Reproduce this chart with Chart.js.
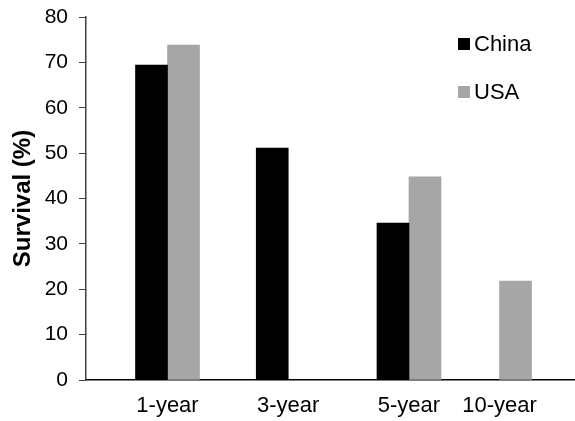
<!DOCTYPE html>
<html>
<head>
<meta charset="utf-8">
<script src="https://cdn.jsdelivr.net/npm/chart.js@4.4.1/dist/chart.umd.min.js"></script>
<style>
  html, body { margin: 0; padding: 0; background: #fff; }
  #wrap { width: 575px; height: 421px; }
</style>
</head>
<body>
<div id="wrap"><canvas id="survivalChart"></canvas></div>
<script>
const years = ['1-year', '3-year', '5-year', '10-year'];
const china = [69.4, 51.1, 34.6, null];
const usa = [73.8, null, 44.8, 21.8];
const yTicks = [0, 10, 20, 30, 40, 50, 60, 70, 80];

// the source spaces the groups unevenly, so the x axis is linear with a slot per group
const slot = [0, 4, 8, 11];
const FONT = "'Liberation Sans', Arial, sans-serif";

const legendInside = {
  id: 'legendInside',
  afterDraw(chart) {
    const ctx = chart.ctx;
    const x = chart.chartArea.right - 117;
    ctx.save();
    ctx.font = '22px ' + FONT;
    ctx.textBaseline = 'middle';
    chart.data.datasets.forEach((ds, i) => {
      const y = 44 + i * 48;
      ctx.fillStyle = ds.backgroundColor;
      ctx.fillRect(x, y - 6, 12, 12);
      ctx.fillStyle = '#000';
      ctx.fillText(ds.label, x + 16, y + 1);
    });
    ctx.restore();
  }
};

const ctx = document.getElementById('survivalChart').getContext('2d');
new Chart(ctx, {
  type: 'bar',
  data: {
    datasets: [
      {
        label: 'China',
        data: china.map((v, i) => ({ x: slot[i], y: v })),
        backgroundColor: '#000000',
        barThickness: 32
      },
      {
        label: 'USA',
        data: usa.map((v, i) => ({ x: slot[i], y: v })),
        backgroundColor: '#a6a6a6',
        barThickness: 32
      }
    ]
  },
  plugins: [legendInside],
  options: {
    responsive: true,
    maintainAspectRatio: false,
    animation: false,
    layout: { padding: { top: 17, right: 0, left: 0, bottom: 0 } },
    scales: {
      x: {
        type: 'linear',
        min: -2.7,
        max: 13.5,
        offset: false,
        afterBuildTicks: s => { s.ticks = slot.map(v => ({ value: v })); },
        afterFit: s => { s.height = 41; },
        ticks: {
          autoSkip: false,
          maxRotation: 0,
          padding: 13,
          color: '#000',
          font: { family: FONT, size: 22 },
          callback: v => years[slot.indexOf(v)]
        },
        grid: { display: false, drawTicks: false },
        border: { display: true, color: '#000', width: 1.5 }
      },
      y: {
        min: 0,
        max: 80,
        afterBuildTicks: s => { s.ticks = yTicks.map(v => ({ value: v })); },
        afterFit: s => { s.width = 86; s.paddingTop = 0; },
        ticks: {
          padding: 11,
          color: '#000',
          font: { family: FONT, size: 21 }
        },
        grid: { drawOnChartArea: false, drawTicks: true, tickLength: 7, color: '#404040' },
        border: { display: true, color: '#404040', width: 1.5 },
        title: {
          display: true,
          text: 'Survival (%)',
          color: '#000',
          padding: { top: 9, bottom: 0 },
          font: { family: FONT, size: 24, weight: 'bold' }
        }
      }
    },
    plugins: {
      legend: { display: false },
      tooltip: { enabled: false }
    }
  }
});
</script>
</body>
</html>
